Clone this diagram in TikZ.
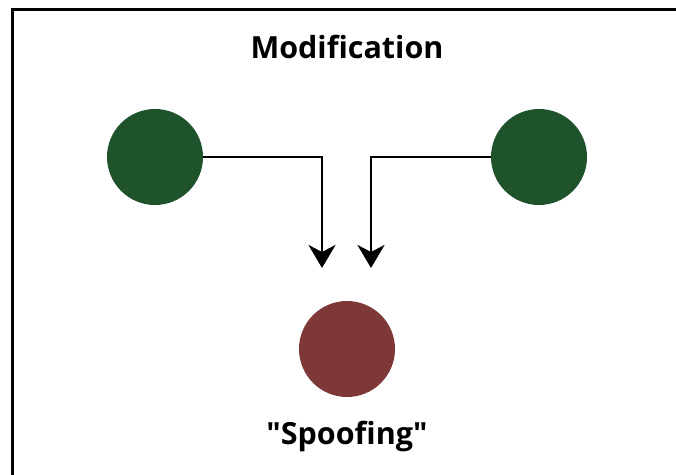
\documentclass[tikz,border=0pt]{standalone}
\usepackage{fontspec}
\setmainfont{Open Sans}
\usetikzlibrary{arrows.meta}
\definecolor{dgreen}{HTML}{1F532C}
\definecolor{dred}{HTML}{7F3838}
\begin{document}
\begin{tikzpicture}[x=1pt,y=-1pt,
  dot/.style={circle,minimum size=96pt,inner sep=0pt,draw=none},
  lbl/.style={font=\bfseries\fontsize{30.5}{36}\selectfont,inner sep=0pt},
  conn/.style={line width=2.8pt,-{Stealth[length=23pt,width=27pt,inset=7pt]}}]
\useasboundingbox (0,0) rectangle (676,474);
\fill[white] (0,0) rectangle (676,474);
\draw[line width=3.2pt] (12.5,500) -- (12.5,9.5) -- (700,9.5);
\node[lbl,anchor=base] (title) at (347,58) {Modification};
\node[dot,fill=dgreen] (a) at (155,157) {};
\node[dot,fill=dgreen] (b) at (539,157) {};
\node[dot,fill=dred] (c) at (347,349) {};
\node[lbl,anchor=base] (spoof) at (347,444) {\textquotedbl Spoofing\textquotedbl};
\coordinate (ta) at (322,268);
\coordinate (tb) at (371,268);
\draw[conn] (a.east) -| (ta);
\draw[conn] (b.west) -| (tb);
\end{tikzpicture}
\end{document}
